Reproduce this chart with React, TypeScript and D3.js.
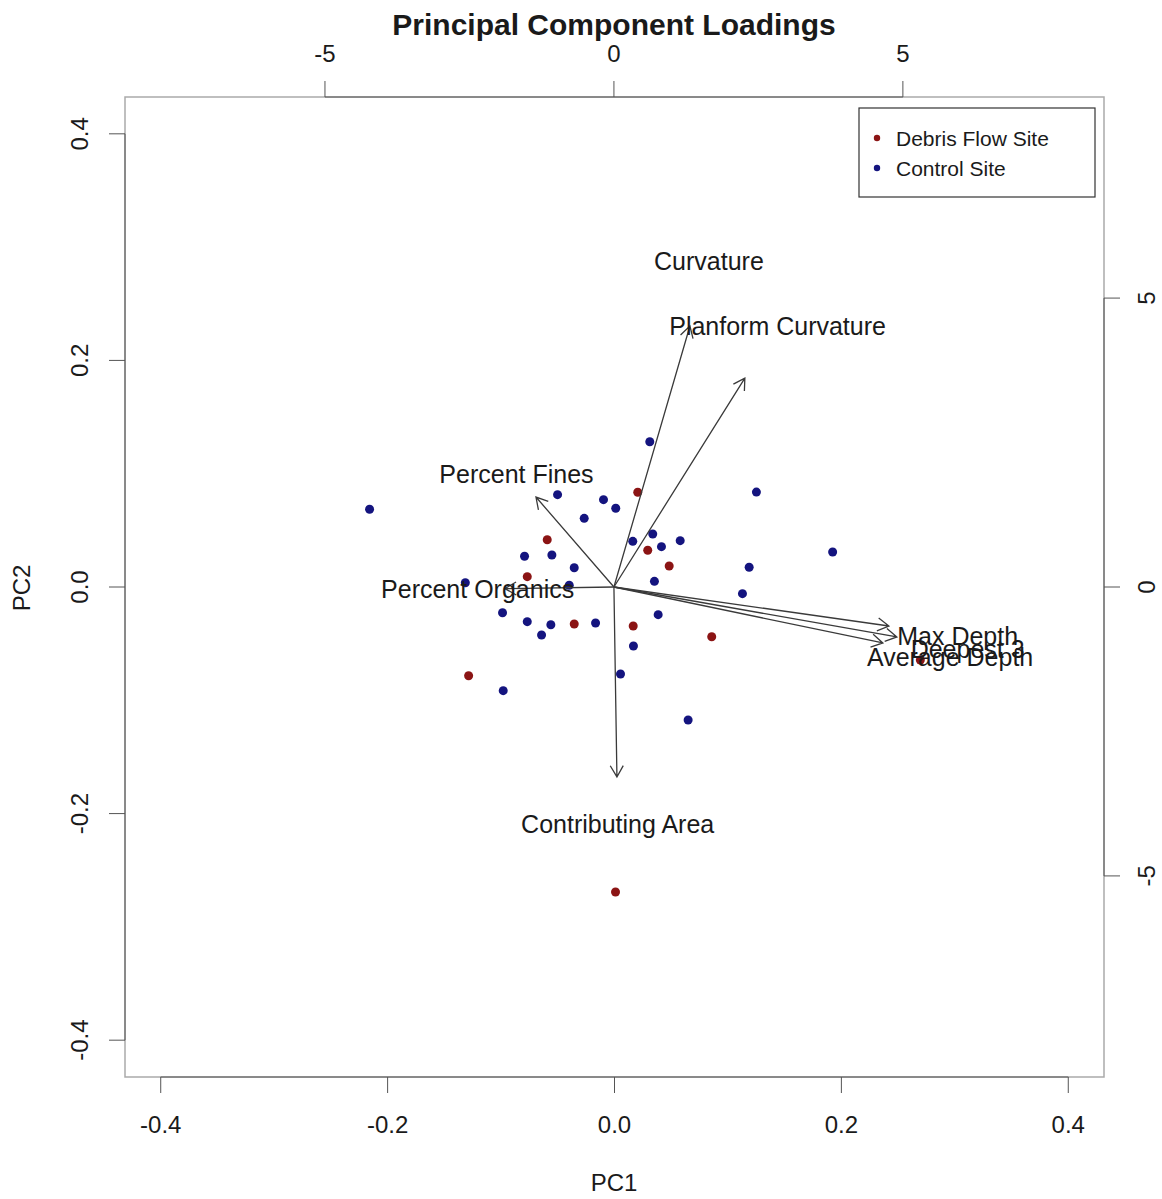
import { useEffect, useRef } from "react";
import * as d3 from "d3";

// scores (PC1 / PC2, bottom + left axes)
const debrisPC1 = [0.0205, -0.0593, 0.0293, 0.0482, -0.0769, -0.0355, 0.0165, 0.0857, -0.1286, 0.0009, 0.2696];
const debrisPC2 = [0.0836, 0.0417, 0.0324, 0.0185, 0.0091, -0.0327, -0.0344, -0.0439, -0.0783, -0.2692, -0.0644];

const controlPC1 = [0.0311, -0.2159, -0.0502, -0.0097, 0.0011, -0.0267, 0.0337, 0.0161, 0.0414, 0.0579,
  -0.0793, -0.0552, -0.0355, -0.1315, -0.0399, 0.0352, -0.0987, -0.0769, -0.0561, -0.0643,
  -0.0167, 0.0385, 0.0167, -0.0981, 0.0053, 0.1251, 0.1923, 0.1187, 0.1128, 0.0649];
const controlPC2 = [0.1282, 0.0686, 0.0815, 0.0771, 0.0695, 0.0606, 0.0468, 0.0403, 0.0356, 0.0409,
  0.0271, 0.0282, 0.0170, 0.0038, 0.0015, 0.0050, -0.0227, -0.0306, -0.0333, -0.0424,
  -0.0318, -0.0244, -0.0521, -0.0915, -0.0768, 0.0838, 0.0309, 0.0174, -0.0059, -0.1174];

// loadings (top + right axes)
const loadingNames = ["Curvature", "Planform Curvature", "Percent Fines", "Percent Organics",
  "Contributing Area", "Max Depth", "Deepest 3", "Average Depth"];
const loadingPC1 = [1.644, 2.832, -1.686, -2.358, 0.065, 5.948, 6.12, 5.817];
const loadingPC2 = [5.645, 4.52, 1.946, -0.035, -4.109, -0.844, -1.081, -1.211];

const scoreTicks = [-0.4, -0.2, 0.0, 0.2, 0.4];
const loadTicks = [-5, 0, 5];

const legendLabels = ["Debris Flow Site", "Control Site"];
const legendColors = ["#8b1414", "#14147f"];

const W = 1162, H = 1199;
const box = { left: 125, right: 1104, top: 97, bottom: 1077 };
const font = "'Liberation Sans', Arial, sans-serif";

function Biplot() {
  const ref = useRef<SVGSVGElement>(null);

  useEffect(() => {
    const svg = d3.select(ref.current);
    svg.selectAll("*").remove();

    const x = d3.scaleLinear().domain([-0.4315, 0.4315]).range([box.left, box.right]);
    const y = d3.scaleLinear().domain([-0.4325, 0.4325]).range([box.bottom, box.top]);
    const lx = d3.scaleLinear().domain([-8.46, 8.48]).range([box.left, box.right]);
    const ly = d3.scaleLinear().domain([-8.48, 8.48]).range([box.bottom, box.top]);

    const fmt = (v: number) => v.toFixed(1);
    const tickCol = "#555";

    // box
    svg.append("rect")
      .attr("x", box.left).attr("y", box.top)
      .attr("width", box.right - box.left).attr("height", box.bottom - box.top)
      .attr("fill", "none").attr("stroke", "#aaa").attr("stroke-width", 1.5);

    // bottom axis
    const gb = svg.append("g");
    gb.append("line").attr("x1", x(scoreTicks[0])).attr("x2", x(scoreTicks[4]))
      .attr("y1", box.bottom).attr("y2", box.bottom).attr("stroke", tickCol);
    gb.selectAll("line.t").data(scoreTicks).join("line").attr("class", "t")
      .attr("x1", d => x(d)).attr("x2", d => x(d))
      .attr("y1", box.bottom).attr("y2", box.bottom + 16).attr("stroke", tickCol);
    gb.selectAll("text").data(scoreTicks).join("text")
      .attr("x", d => x(d)).attr("y", 1125).attr("dy", "0.35em")
      .attr("text-anchor", "middle").text(fmt);

    // left axis
    const gl = svg.append("g");
    gl.append("line").attr("y1", y(scoreTicks[0])).attr("y2", y(scoreTicks[4]))
      .attr("x1", box.left).attr("x2", box.left).attr("stroke", tickCol);
    gl.selectAll("line.t").data(scoreTicks).join("line").attr("class", "t")
      .attr("y1", d => y(d)).attr("y2", d => y(d))
      .attr("x1", box.left).attr("x2", box.left - 16).attr("stroke", tickCol);
    gl.selectAll("text").data(scoreTicks).join("text")
      .attr("transform", d => `translate(80,${y(d)}) rotate(-90)`)
      .attr("dy", "0.35em").attr("text-anchor", "middle").text(fmt);

    // top axis (loadings)
    const gt = svg.append("g");
    gt.append("line").attr("x1", lx(loadTicks[0])).attr("x2", lx(loadTicks[2]))
      .attr("y1", box.top).attr("y2", box.top).attr("stroke", tickCol);
    gt.selectAll("line.t").data(loadTicks).join("line").attr("class", "t")
      .attr("x1", d => lx(d)).attr("x2", d => lx(d))
      .attr("y1", box.top).attr("y2", box.top - 16).attr("stroke", tickCol);
    gt.selectAll("text").data(loadTicks).join("text")
      .attr("x", d => lx(d)).attr("y", 54).attr("dy", "0.35em")
      .attr("text-anchor", "middle").text(d => String(d));

    // right axis (loadings)
    const gr = svg.append("g");
    gr.append("line").attr("y1", ly(loadTicks[0])).attr("y2", ly(loadTicks[2]))
      .attr("x1", box.right).attr("x2", box.right).attr("stroke", tickCol);
    gr.selectAll("line.t").data(loadTicks).join("line").attr("class", "t")
      .attr("y1", d => ly(d)).attr("y2", d => ly(d))
      .attr("x1", box.right).attr("x2", box.right + 16).attr("stroke", tickCol);
    gr.selectAll("text").data(loadTicks).join("text")
      .attr("transform", d => `translate(1147,${ly(d)}) rotate(-90)`)
      .attr("dy", "0.35em").attr("text-anchor", "middle").text(d => String(d));

    // titles
    svg.append("text").attr("x", 614).attr("y", 24).attr("dy", "0.35em")
      .attr("text-anchor", "middle").attr("font-weight", "bold").attr("font-size", 30)
      .text("Principal Component Loadings");
    svg.append("text").attr("x", 614).attr("y", 1183).attr("dy", "0.35em")
      .attr("text-anchor", "middle").text("PC1");
    svg.append("text").attr("transform", "translate(22,588) rotate(-90)")
      .attr("dy", "0.35em").attr("text-anchor", "middle").text("PC2");

    // points
    svg.append("g").selectAll("circle").data(controlPC1).join("circle")
      .attr("cx", d => x(d)).attr("cy", (_, i) => y(controlPC2[i]))
      .attr("r", 4.5).attr("fill", legendColors[1]);
    svg.append("g").selectAll("circle").data(debrisPC1).join("circle")
      .attr("cx", d => x(d)).attr("cy", (_, i) => y(debrisPC2[i]))
      .attr("r", 4.5).attr("fill", legendColors[0]);

    // loading arrows, drawn to 0.8 of the label position
    const ag = svg.append("g").attr("stroke", "#3a3a3a").attr("stroke-width", 1.3).attr("fill", "none");
    const x0 = lx(0), y0 = ly(0);
    loadingNames.forEach((_, i) => {
      const x1 = lx(loadingPC1[i] * 0.8), y1 = ly(loadingPC2[i] * 0.8);
      const a = Math.atan2(y1 - y0, x1 - x0);
      const len = 13, sp = Math.PI / 6;
      const p = d3.path();
      p.moveTo(x0, y0); p.lineTo(x1, y1);
      p.moveTo(x1 - len * Math.cos(a - sp), y1 - len * Math.sin(a - sp));
      p.lineTo(x1, y1);
      p.lineTo(x1 - len * Math.cos(a + sp), y1 - len * Math.sin(a + sp));
      ag.append("path").attr("d", p.toString());
    });
    svg.append("g").selectAll("text").data(loadingNames).join("text")
      .attr("x", (_, i) => lx(loadingPC1[i])).attr("y", (_, i) => ly(loadingPC2[i]))
      .attr("dy", "0.35em").attr("text-anchor", "middle").attr("fill", "#1a1a1a")
      .attr("font-size", 25).text(d => d);

    // legend
    const lg = svg.append("g");
    lg.append("rect").attr("x", 859).attr("y", 108).attr("width", 236).attr("height", 89)
      .attr("fill", "white").attr("stroke", "#333").attr("stroke-width", 1.2);
    legendLabels.forEach((t, i) => {
      lg.append("circle").attr("cx", 877).attr("cy", 138 + i * 30).attr("r", 3.2)
        .attr("fill", legendColors[i]);
      lg.append("text").attr("x", 896).attr("y", 139 + i * 30).attr("dy", "0.35em")
        .attr("font-size", 21).text(t);
    });
  }, []);

  return (
    <svg ref={ref} width={W} height={H}
      style={{ position: "absolute", left: 0, top: 0, background: "white" }}
      fontFamily={font} fontSize={24} fill="#1a1a1a" />
  );
}

export default function App() {
  return <Biplot />;
}
